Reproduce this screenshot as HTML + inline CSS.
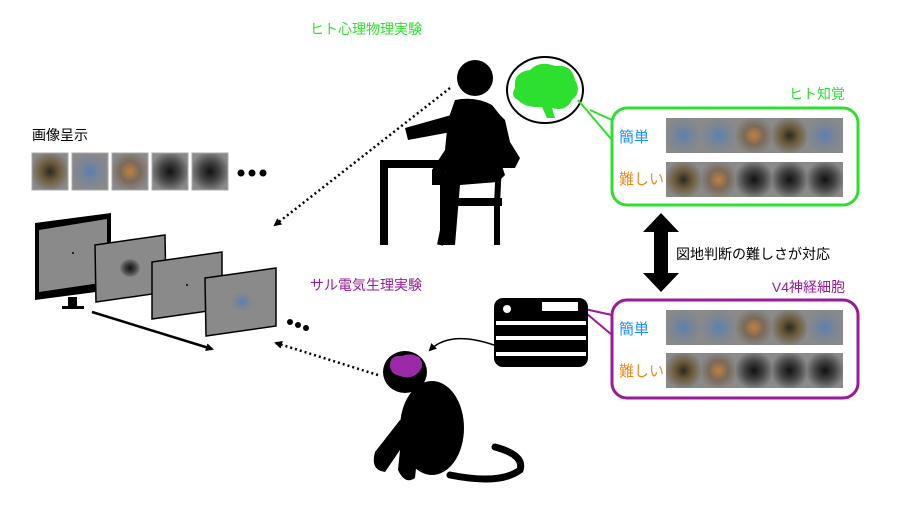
<!DOCTYPE html>
<html><head><meta charset="utf-8"><style>
body{margin:0;background:#fff;width:900px;height:506px;overflow:hidden}
svg{display:block}
text{font-family:"Liberation Sans","Noto Sans CJK JP",sans-serif}
</style></head><body>
<svg width="900" height="506" viewBox="0 0 900 506" xmlns="http://www.w3.org/2000/svg">
<defs>
<radialGradient id="g1" cx="50%" cy="50%" r="55%"><stop offset="0" stop-color="#2a2a20"/><stop offset="0.45" stop-color="#6b5a3a"/><stop offset="1" stop-color="#8a8a8a"/></radialGradient>
<radialGradient id="g2" cx="50%" cy="50%" r="55%"><stop offset="0" stop-color="#111"/><stop offset="0.5" stop-color="#444"/><stop offset="1" stop-color="#8a8a8a"/></radialGradient>
<radialGradient id="g3" cx="50%" cy="50%" r="55%"><stop offset="0" stop-color="#c08040"/><stop offset="0.5" stop-color="#7a6a5a"/><stop offset="1" stop-color="#8a8a8a"/></radialGradient>
<radialGradient id="g4" cx="50%" cy="50%" r="55%"><stop offset="0" stop-color="#5a80b0"/><stop offset="0.5" stop-color="#7a8595"/><stop offset="1" stop-color="#8a8a8a"/></radialGradient>
<marker id="ah" markerWidth="8" markerHeight="8" refX="6" refY="4" orient="auto" markerUnits="userSpaceOnUse"><path d="M0,0 L8,4 L0,8 Z" fill="#000"/></marker>
</defs>

<text x="310" y="34" font-size="14" fill="#2ee02e">ヒト心理物理実験</text>
<text x="32" y="140" font-size="14" fill="#000">画像呈示</text>

<rect x="32" y="153" width="36" height="37" fill="url(#g1)" stroke="#aaa"/>
<rect x="72" y="153" width="36" height="37" fill="url(#g4)" stroke="#aaa"/>
<rect x="112" y="153" width="36" height="37" fill="url(#g3)" stroke="#aaa"/>
<rect x="152" y="153" width="36" height="37" fill="url(#g2)" stroke="#aaa"/>
<rect x="192" y="153" width="36" height="37" fill="url(#g2)" stroke="#aaa"/>
<circle cx="241" cy="173" r="3.5"/><circle cx="252" cy="173" r="3.5"/><circle cx="263" cy="173" r="3.5"/>

<polygon points="35,223 111,213 111,290 35,300" fill="#000"/>
<polygon points="39,230 107,219 107,282 39,292" fill="#8a8a8a"/>
<rect x="68" y="297" width="9" height="9" fill="#000"/>
<rect x="62" y="306" width="22" height="3" fill="#000"/>
<circle cx="73" cy="253" r="1" fill="#000"/>
<polygon points="95,245 165,235 166,292 96,302" fill="#8a8a8a" stroke="#000" stroke-width="1.5"/>
<ellipse cx="130" cy="268" rx="10" ry="9" fill="url(#g2)"/>
<polygon points="152,262 222,252 222,309 152,319" fill="#8a8a8a" stroke="#000" stroke-width="1.5"/>
<circle cx="187" cy="285" r="1" fill="#000"/>
<polygon points="205,278 276,268 276,326 206,336" fill="#8a8a8a" stroke="#000" stroke-width="1.5"/>
<ellipse cx="242" cy="302" rx="11" ry="10" fill="url(#g4)"/>
<line x1="92" y1="312" x2="212" y2="349" stroke="#000" stroke-width="2.5" marker-end="url(#ah)"/>
<circle cx="290" cy="322" r="3"/><circle cx="298" cy="325" r="3"/><circle cx="306" cy="328" r="3"/>

<line x1="450" y1="88" x2="275" y2="225" stroke="#000" stroke-width="2.5" stroke-dasharray="2,3" marker-end="url(#ah)"/>
<line x1="378" y1="375" x2="276" y2="343" stroke="#000" stroke-width="2.5" stroke-dasharray="2,3" marker-end="url(#ah)"/>

<text x="310" y="290" font-size="14" fill="#9a1a9a">サル電気生理実験</text>

<circle cx="475" cy="78" r="18" fill="#000"/>
<path d="M455,100 Q475,96 492,105 L500,115 L505,120 L510,142 L520,158 L515,168 L450,168 L445,172 L445,185 L432,185 L432,170 L445,150 L448,120 Z" fill="#000"/>
<path d="M462,112 L405,128 L408,140 L462,130 Z" fill="#000"/>
<path d="M450,160 L500,160 L505,175 L498,182 L460,185 L455,245 L440,245 L440,185 Z" fill="#000"/>
<rect x="380" y="160" width="60" height="8" fill="#000"/>
<rect x="380" y="160" width="8" height="85" fill="#000"/>
<rect x="433" y="160" width="7" height="25" fill="#000"/>
<path d="M497,140 L503,140 L500,205 L500,245 L494,245 L494,205 Z" fill="#000"/>
<rect x="440" y="198" width="62" height="8" fill="#000"/>
<line x1="448" y1="206" x2="440" y2="245" stroke="#000" stroke-width="6"/>

<ellipse cx="545" cy="90" rx="38" ry="33" fill="#fff" stroke="#000" stroke-width="2"/>
<path d="M515,88 Q513,72 530,70 Q540,60 555,66 Q572,64 575,80 Q582,92 572,100 Q566,112 552,108 L555,118 L547,118 L542,107 Q525,108 518,100 Q510,96 515,88 Z" fill="#2ee02e"/>
<line x1="590" y1="110" x2="612" y2="120" stroke="#2ee02e" stroke-width="2"/>
<line x1="578" y1="100" x2="612" y2="140" stroke="#2ee02e" stroke-width="2"/>

<text x="845" y="99" font-size="14" fill="#2ee02e" text-anchor="end">ヒト知覚</text>
<rect x="612" y="108" width="246" height="97" rx="15" fill="#fff" stroke="#2ee02e" stroke-width="3"/>
<text x="619" y="142" font-size="15" fill="#1e90ff">簡単</text>
<text x="619" y="184" font-size="15" fill="#f08a1a">難しい</text>
<g>
<rect x="666" y="118" width="35" height="35" fill="url(#g4)"/><rect x="701" y="118" width="35" height="35" fill="url(#g4)"/><rect x="736" y="118" width="36" height="35" fill="url(#g3)"/><rect x="772" y="118" width="35" height="35" fill="url(#g1)"/><rect x="807" y="118" width="36" height="35" fill="url(#g4)"/>
<rect x="666" y="162" width="35" height="35" fill="url(#g1)"/><rect x="701" y="162" width="35" height="35" fill="url(#g3)"/><rect x="736" y="162" width="36" height="35" fill="url(#g2)"/><rect x="772" y="162" width="35" height="35" fill="url(#g2)"/><rect x="807" y="162" width="36" height="35" fill="url(#g2)"/>
</g>

<polygon points="661,213 679,232 668,232 668,273 679,273 661,292 643,273 654,273 654,232 643,232" fill="#000"/>
<text x="676" y="259" font-size="14" fill="#000">図地判断の難しさが対応</text>

<text x="845" y="292" font-size="14" fill="#9a1a9a" text-anchor="end">V4神経細胞</text>
<rect x="612" y="300" width="246" height="98" rx="15" fill="#fff" stroke="#9a1a9a" stroke-width="3"/>
<line x1="580" y1="308" x2="612" y2="315" stroke="#9a1a9a" stroke-width="2"/>
<line x1="580" y1="308" x2="612" y2="335" stroke="#9a1a9a" stroke-width="2"/>
<text x="619" y="334" font-size="15" fill="#1e90ff">簡単</text>
<text x="619" y="376" font-size="15" fill="#f08a1a">難しい</text>
<g>
<rect x="666" y="310" width="35" height="35" fill="url(#g4)"/><rect x="701" y="310" width="35" height="35" fill="url(#g4)"/><rect x="736" y="310" width="36" height="35" fill="url(#g3)"/><rect x="772" y="310" width="35" height="35" fill="url(#g1)"/><rect x="807" y="310" width="36" height="35" fill="url(#g4)"/>
<rect x="666" y="353" width="35" height="35" fill="url(#g1)"/><rect x="701" y="353" width="35" height="35" fill="url(#g3)"/><rect x="736" y="353" width="36" height="35" fill="url(#g2)"/><rect x="772" y="353" width="35" height="35" fill="url(#g2)"/><rect x="807" y="353" width="36" height="35" fill="url(#g2)"/>
</g>

<rect x="494" y="298" width="94" height="69" rx="9" fill="#000"/>
<circle cx="507" cy="309" r="4" fill="#fff"/>
<rect x="542" y="302" width="36" height="9" fill="#fff"/>
<rect x="496" y="321" width="90" height="4" fill="#fff"/>
<rect x="496" y="336" width="90" height="4" fill="#fff"/>
<rect x="496" y="352" width="90" height="4" fill="#fff"/>
<path d="M494,345 Q450,330 430,350" stroke="#000" stroke-width="1.5" fill="none" marker-end="url(#ah)"/>

<ellipse cx="405" cy="372" rx="22" ry="21" fill="#000"/>
<path d="M390,365 Q390,355 402,356 Q412,352 420,358 Q425,366 418,373 Q410,380 400,376 Q390,374 390,365 Z" fill="#9a2aa8"/>
<ellipse cx="432" cy="428" rx="32" ry="47" fill="#000"/>
<path d="M400,420 L375,452 Q370,470 385,472 L400,450 L398,470 Q405,485 415,478 L420,430 Z" fill="#000"/>
<path d="M450,475 Q500,485 520,470 Q525,455 495,447" stroke="#000" stroke-width="7" fill="none" stroke-linecap="round"/>
</svg>
</body></html>
